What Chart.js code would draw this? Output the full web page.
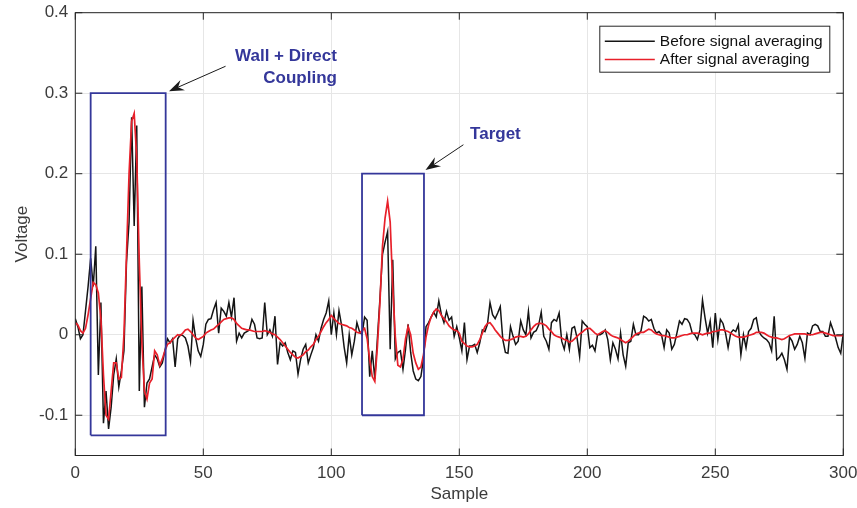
<!DOCTYPE html>
<html>
<head>
<meta charset="utf-8">
<script src="https://cdn.jsdelivr.net/npm/chart.js@4.4.1/dist/chart.umd.min.js"></script>
<style>
  html, body { margin: 0; padding: 0; background: #fff; }
  #wrap { width: 857px; height: 508px; }
</style>
</head>
<body>
<div id="wrap"><canvas id="chart" width="857" height="508"></canvas></div>
<script>
// raw signal, one value per sample (0..300)
const beforeAvg = [
  0.02, 0.01, -0.005, 0.0, 0.03, 0.06, 0.095, 0.06, 0.11, -0.05,
  0.04, -0.11, -0.07, -0.117, -0.09, -0.05, -0.03, -0.065, -0.045, -0.02,
  0.09, 0.14, 0.27, 0.135, 0.26, -0.07, 0.06, -0.09, -0.06, -0.055,
  -0.04, -0.025, -0.03, -0.04, -0.035, -0.02, -0.005, -0.01, -0.005, -0.04,
  -0.005, 0.0, -0.001, -0.004, -0.014, -0.033, 0.018, -0.004, -0.02, -0.027,
  -0.012, 0.013, 0.019, 0.02, 0.031, 0.04, 0.002, 0.033, 0.029, 0.023,
  0.04, 0.022, 0.046, -0.008, 0.002, -0.004, 0.002, 0.004, 0.006, 0.019,
  0.013, -0.004, -0.005, -0.004, 0.04, 0.0, 0.006, -0.002, 0.023, -0.037,
  -0.01, -0.014, -0.01, -0.022, -0.031, -0.02, -0.022, -0.049, -0.031, -0.018,
  -0.012, -0.035, -0.025, -0.016, 0.0, -0.008, 0.008, 0.019, 0.027, 0.042,
  0.0, 0.027, 0.0, 0.03, 0.012, -0.015, -0.035, 0.0, -0.025, -0.008,
  0.015, 0.004, 0.0, 0.022, 0.018, -0.052, -0.02, -0.055, -0.005, 0.045,
  0.1, 0.115, 0.128, -0.018, 0.093, -0.03, -0.022, -0.02, -0.043, -0.018,
  0.013, -0.022, -0.045, -0.055, -0.057, -0.052, -0.03, 0.01, 0.015, 0.022,
  0.028, 0.022, 0.042, 0.025, 0.015, 0.029, 0.018, 0.022, -0.002, 0.01,
  -0.004, -0.02, 0.015, -0.031, -0.014, -0.014, -0.012, -0.022, -0.01, 0.006,
  0.004, 0.013, 0.04, 0.025, 0.02, 0.027, 0.035, -0.006, -0.022, -0.023,
  0.01, -0.002, -0.012, -0.008, 0.017, 0.006, 0.0, 0.029, -0.004, 0.003,
  0.005, 0.012, 0.028, -0.002, -0.008, -0.018, 0.015, 0.019, 0.017, 0.027,
  -0.008, -0.018, 0.0, -0.018, 0.008, 0.01, -0.004, -0.027, 0.017, 0.013,
  0.01, -0.016, -0.013, -0.02, 0.0, 0.0, 0.002, 0.006, -0.006, -0.031,
  -0.01, -0.018, -0.03, 0.002, -0.025, -0.039, -0.01, -0.008, 0.013, 0.0,
  0.0, 0.005, 0.023, 0.021, 0.017, 0.019, 0.008, 0.002, 0.004, 0.0,
  -0.016, 0.006, 0.002, -0.018, -0.012, 0.002, 0.017, 0.013, 0.02, 0.019,
  0.014, 0.002, 0.0, -0.006, 0.006, 0.043, 0.021, 0.002, 0.017, -0.016,
  0.027, -0.006, 0.019, 0.014, 0.002, -0.016, 0.002, 0.006, 0.004, 0.012,
  -0.025, 0.0, -0.016, 0.004, 0.008, 0.019, 0.021, 0.004, -0.001, -0.004,
  -0.006, -0.01, -0.02, 0.023, -0.031, -0.028, -0.023, -0.031, -0.043, -0.003,
  -0.008, -0.018, -0.012, -0.002, -0.01, -0.029, 0.002, 0.0, 0.011, 0.013,
  0.011, 0.004, 0.004, -0.002, -0.002, 0.015, 0.006, -0.004, -0.016, -0.023,
  0.002
];

// averaged signal, one value per sample (0..300)
const afterAvg = [
  0.015, 0.012, 0.005, 0.002, 0.008, 0.025, 0.045, 0.065, 0.062, 0.052,
  0.02, -0.05, -0.1, -0.105, -0.07, -0.035, -0.035, -0.055, -0.053, 0.0,
  0.1, 0.2, 0.265, 0.275, 0.22, 0.09, -0.01, -0.07, -0.08, -0.06,
  -0.055, -0.02, -0.025, -0.038, -0.03, -0.02, -0.012, -0.01, -0.006, -0.003,
  0.0, -0.001, 0.002, 0.006, 0.007, 0.004, 0.0, -0.004, -0.006, -0.004,
  -0.002, 0.002, 0.004, 0.006, 0.007, 0.01, 0.013, 0.016, 0.019, 0.02,
  0.021, 0.021, 0.019, 0.014, 0.011, 0.008, 0.007, 0.006, 0.006, 0.005,
  0.004, 0.004, 0.004, 0.004, 0.005, 0.004, 0.003, 0.001, 0.0, -0.003,
  -0.006, -0.01, -0.014, -0.018, -0.022, -0.025, -0.028, -0.029, -0.027, -0.025,
  -0.021, -0.019, -0.015, -0.012, -0.006, -0.002, 0.004, 0.01, 0.015, 0.019,
  0.024, 0.02, 0.017, 0.014, 0.013, 0.012, 0.011, 0.009, 0.008, 0.006,
  0.003, 0.002, 0.005, 0.008, -0.005, -0.031, -0.052, -0.058, -0.015, 0.04,
  0.11, 0.145, 0.166, 0.14, 0.06, -0.002, -0.038, -0.04, -0.03, -0.005,
  0.01, 0.0, -0.023, -0.035, -0.043, -0.04, -0.025, -0.003, 0.012, 0.022,
  0.028, 0.032, 0.03, 0.024, 0.02, 0.016, 0.011, 0.008, 0.006, 0.005,
  0.002, -0.008, -0.011, -0.014, -0.015, -0.015, -0.014, -0.012, -0.006, 0.002,
  0.01, 0.014, 0.015, 0.011, 0.006, 0.002, -0.002, -0.005, -0.007, -0.007,
  -0.006, -0.005, -0.003, -0.002, -0.002, -0.003, -0.002, 0.001, 0.006, 0.01,
  0.013, 0.014, 0.014, 0.013, 0.011, 0.007, 0.004, 0.0, -0.002, -0.003,
  -0.004, -0.006, -0.007, -0.009, -0.008, -0.005, -0.002, 0.001, 0.003, 0.006,
  0.008, 0.008, 0.005, 0.002, 0.0, 0.002, 0.004, 0.005, 0.003, 0.0,
  -0.002, -0.003, -0.004, -0.006, -0.008, -0.01, -0.008, -0.005, -0.002, 0.001,
  0.002, 0.003, 0.003, 0.005, 0.007, 0.006, 0.003, 0.001, 0.0, -0.001,
  -0.001, -0.002, -0.003, -0.004, -0.004, -0.003, -0.002, -0.001, 0.0, 0.0,
  0.001, 0.002, 0.002, 0.002, 0.001, 0.0, 0.001, 0.002, 0.002, 0.004,
  0.004, 0.005, 0.006, 0.006, 0.005, 0.004, 0.002, 0.0, -0.002, -0.003,
  -0.003, -0.003, -0.002, -0.001, 0.0, 0.001, 0.003, 0.003, 0.003, 0.002,
  0.0, -0.002, -0.003, -0.004, -0.004, -0.005, -0.006, -0.005, -0.003, -0.001,
  0.0, 0.001, 0.001, 0.001, 0.001, 0.001, 0.0, 0.0, 0.0, 0.001,
  0.002, 0.003, 0.003, 0.002, 0.001, 0.0, -0.001, -0.001, -0.001, -0.001,
  -0.001
];

const xTicks = [0, 50, 100, 150, 200, 250, 300];
const yTicks = [-0.1, 0, 0.1, 0.2, 0.3, 0.4];

// highlighted regions (sample range, voltage range)
const wallBox = { x: [6, 35.3], y: [-0.125, 0.3] };
const targetBox = { x: [112, 136.2], y: [-0.1, 0.2] };

const FONT = '"Liberation Sans", Arial, Helvetica, sans-serif';
const NOTE_BLUE = '#34379a';
const AXIS_DARK = '#262626';

function toPoints(arr) {
    return arr.map(function(v, i) { return { x: i, y: v }; });
}
function boxPoints(b) {
    return [
        { x: b.x[0], y: b.y[0] }, { x: b.x[0], y: b.y[1] },
        { x: b.x[1], y: b.y[1] }, { x: b.x[1], y: b.y[0] },
        { x: b.x[0], y: b.y[0] }
    ];
}

// text + arrows, in data coordinates
const notes = {
    wallText: { x: 102.2, y: [0.346, 0.318], lines: ['Wall + Direct', 'Coupling'] },
    wallArrow: { from: [58.7, 0.3335], to: [36.6, 0.3025] },
    targetText: { x: 154.2, y: 0.2487, text: 'Target' },
    targetArrow: { from: [151.6, 0.236], to: [136.8, 0.2045] }
};

function drawArrow(ctx, x0, y0, x1, y1) {
    const ang = Math.atan2(y1 - y0, x1 - x0);
    const len = 15, half = 5.5, notch = 10;
    const bx = x1 - Math.cos(ang) * notch, by = y1 - Math.sin(ang) * notch;
    ctx.strokeStyle = '#1a1a1a';
    ctx.fillStyle = '#1a1a1a';
    ctx.lineWidth = 1;
    ctx.beginPath();
    ctx.moveTo(x0, y0);
    ctx.lineTo(bx, by);
    ctx.stroke();
    const cx = x1 - Math.cos(ang) * len, cy = y1 - Math.sin(ang) * len;
    ctx.beginPath();
    ctx.moveTo(x1, y1);
    ctx.lineTo(cx - Math.sin(ang) * half, cy + Math.cos(ang) * half);
    ctx.lineTo(bx, by);
    ctx.lineTo(cx + Math.sin(ang) * half, cy - Math.cos(ang) * half);
    ctx.closePath();
    ctx.fill();
}

const notesPlugin = {
    id: 'notes',
    afterDatasetsDraw: function(chart) {
        const ctx = chart.ctx, x = chart.scales.x, y = chart.scales.y;
        ctx.save();
        [notes.wallArrow, notes.targetArrow].forEach(function(a) {
            drawArrow(ctx, x.getPixelForValue(a.from[0]), y.getPixelForValue(a.from[1]),
                x.getPixelForValue(a.to[0]), y.getPixelForValue(a.to[1]));
        });
        ctx.font = 'bold 17px ' + FONT;
        ctx.fillStyle = NOTE_BLUE;
        ctx.textBaseline = 'middle';
        ctx.textAlign = 'right';
        notes.wallText.lines.forEach(function(t, i) {
            ctx.fillText(t, x.getPixelForValue(notes.wallText.x), y.getPixelForValue(notes.wallText.y[i]));
        });
        ctx.textAlign = 'left';
        ctx.fillText(notes.targetText.text, x.getPixelForValue(notes.targetText.x), y.getPixelForValue(notes.targetText.y));
        ctx.restore();
    },
    afterDraw: function(chart) {
        const ctx = chart.ctx, a = chart.chartArea;
        const x = chart.scales.x, y = chart.scales.y;
        ctx.save();
        // frame and inward ticks (all four sides)
        ctx.strokeStyle = AXIS_DARK;
        ctx.lineWidth = 1;
        ctx.strokeRect(a.left, a.top, a.right - a.left, a.bottom - a.top);
        ctx.beginPath();
        xTicks.forEach(function(t) {
            const px = x.getPixelForValue(t);
            ctx.moveTo(px, a.bottom); ctx.lineTo(px, a.bottom - 7);
            ctx.moveTo(px, a.top); ctx.lineTo(px, a.top + 7);
        });
        yTicks.forEach(function(t) {
            const py = y.getPixelForValue(t);
            ctx.moveTo(a.left, py); ctx.lineTo(a.left + 7, py);
            ctx.moveTo(a.right, py); ctx.lineTo(a.right - 7, py);
        });
        ctx.stroke();

        // legend box, top right inside the axes
        const items = chart.data.datasets
            .filter(function(d) { return d.legendRow !== undefined; })
            .sort(function(p, q) { return p.legendRow - q.legendRow; });
        const lw = 230, lh = 46;
        const lx = a.right - 13.5 - lw, ly = a.top + 13.5;
        ctx.fillStyle = '#fff';
        ctx.fillRect(lx, ly, lw, lh);
        ctx.strokeStyle = AXIS_DARK;
        ctx.strokeRect(lx, ly, lw, lh);
        ctx.font = '15.5px ' + FONT;
        ctx.textBaseline = 'middle';
        ctx.textAlign = 'left';
        items.forEach(function(d, i) {
            const rowY = ly + 15 + i * 18.3;
            ctx.strokeStyle = d.borderColor;
            ctx.lineWidth = d.borderWidth;
            ctx.beginPath();
            ctx.moveTo(lx + 5, rowY);
            ctx.lineTo(lx + 55, rowY);
            ctx.stroke();
            ctx.fillStyle = '#111';
            ctx.fillText(d.label, lx + 60, rowY + 0.5);
        });
        ctx.restore();
    }
};

Chart.defaults.font.family = FONT;

new Chart(document.getElementById('chart').getContext('2d'), {
    type: 'line',
    data: {
        datasets: [
            {
                label: 'wall', data: boxPoints(wallBox),
                borderColor: NOTE_BLUE, borderWidth: 1.8, pointRadius: 0,
                borderJoinStyle: 'miter', fill: false, tension: 0, clip: false
            },
            {
                label: 'target', data: boxPoints(targetBox),
                borderColor: NOTE_BLUE, borderWidth: 1.8, pointRadius: 0,
                borderJoinStyle: 'miter', fill: false, tension: 0, clip: false
            },
            {
                label: 'After signal averaging', data: toPoints(afterAvg), legendRow: 1,
                borderColor: '#e8202a', borderWidth: 1.7, pointRadius: 0,
                fill: false, tension: 0
            },
            {
                label: 'Before signal averaging', data: toPoints(beforeAvg), legendRow: 0,
                borderColor: '#141414', borderWidth: 1.5, pointRadius: 0,
                fill: false, tension: 0
            }
        ]
    },
    options: {
        responsive: false,
        animation: false,
        events: [],
        layout: { padding: { top: 12.7, right: 13.7, left: 0, bottom: 0 } },
        plugins: {
            legend: { display: false },
            tooltip: { enabled: false }
        },
        scales: {
            x: {
                type: 'linear', min: 0, max: 300,
                afterBuildTicks: function(s) { s.ticks = xTicks.map(function(v) { return { value: v }; }); },
                afterFit: function(s) { s.height = 52.5; s.paddingLeft = 0; s.paddingRight = 0; },
                grid: { color: '#e6e6e6', lineWidth: 1, drawTicks: false },
                border: { display: false },
                ticks: { padding: 8, color: '#3c3c3c', font: { size: 17 }, maxRotation: 0 },
                title: { display: true, text: 'Sample', color: '#3c3c3c', font: { size: 17 }, padding: { top: 0, bottom: 3 } }
            },
            y: {
                type: 'linear', min: -0.15, max: 0.4,
                afterBuildTicks: function(s) { s.ticks = yTicks.map(function(v) { return { value: v }; }); },
                afterFit: function(s) { s.width = 75.3; s.paddingTop = 0; s.paddingBottom = 0; },
                grid: { color: '#e6e6e6', lineWidth: 1, drawTicks: false },
                border: { display: false },
                ticks: {
                    padding: 7, color: '#3c3c3c', font: { size: 17 },
                    callback: function(v) { return v === 0 ? '0' : String(v); }
                },
                title: { display: true, text: 'Voltage', color: '#3c3c3c', font: { size: 17 }, padding: { top: 12, bottom: 0 } }
            }
        }
    },
    plugins: [notesPlugin]
});
</script>
</body>
</html>
